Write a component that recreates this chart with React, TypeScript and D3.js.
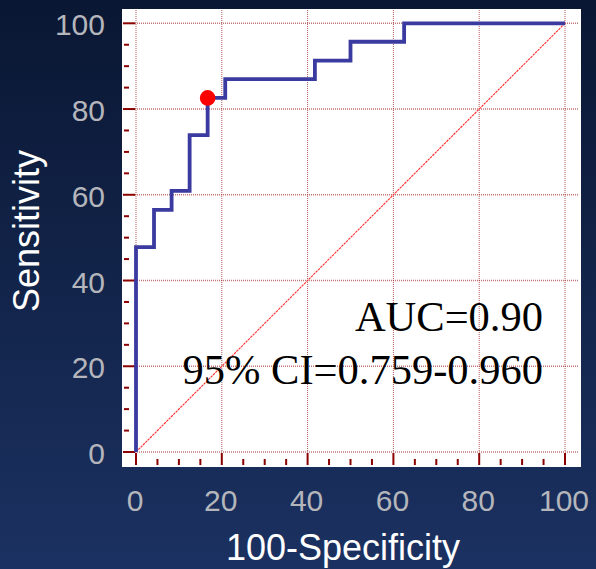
import { useEffect, useRef } from "react";
import * as d3 from "d3";

// ROC curve vertices (100-specificity, sensitivity), drawn as a step line
const fprPoints = [0, 0, 4.2, 8.3, 12.5, 16.7, 20.8, 41.7, 50, 62.5, 100];
const sensPoints = [0, 47.8, 56.5, 60.9, 73.9, 82.6, 87.0, 91.3, 95.7, 100, 100];
const cutoffPoint = [16.7, 82.6]; // optimal criterion marker
const majorTicks = [0, 20, 40, 60, 80, 100];
const minorTicks = [5, 10, 15, 25, 30, 35, 45, 50, 55, 65, 70, 75, 85, 90, 95];
const statLines = ["AUC=0.90", "95% CI=0.759-0.960"];

export default function App() {
  const ref = useRef<SVGSVGElement | null>(null);
  const width = 596;
  const height = 569;

  useEffect(() => {
    document.body.style.margin = "0";
    if (!ref.current) return;
    const svg = d3.select(ref.current);
    svg.selectAll("*").remove();

    const x = d3.scaleLinear().domain([0, 100]).range([136, 565]);
    const y = d3.scaleLinear().domain([0, 100]).range([452, 23.3]);

    // background gradient
    const defs = svg.append("defs");
    const grad = defs.append("linearGradient").attr("id", "bg").attr("x1", 0).attr("y1", 0).attr("x2", 0).attr("y2", 1);
    grad.append("stop").attr("offset", "0%").attr("stop-color", "#0a1733");
    grad.append("stop").attr("offset", "100%").attr("stop-color", "#1b3161");
    svg.append("rect").attr("width", width).attr("height", height).attr("fill", "url(#bg)");

    // white plot panel
    svg.append("rect").attr("x", 122).attr("y", 9).attr("width", 459).attr("height", 458).attr("fill", "#ffffff");

    // gridlines
    svg.append("g").selectAll("line").data(majorTicks).join("line")
      .attr("x1", 133).attr("x2", 579)
      .attr("y1", d => y(d)).attr("y2", d => y(d))
      .attr("stroke", "#b04848").attr("stroke-width", 1.5)
      .attr("stroke-dasharray", "1,1").attr("opacity", 0.75);
    svg.append("g").selectAll("line").data(majorTicks).join("line")
      .attr("x1", d => x(d)).attr("x2", d => x(d))
      .attr("y1", 10).attr("y2", y(0))
      .attr("stroke", "#a03030").attr("stroke-width", 1)
      .attr("stroke-dasharray", "1,1").attr("opacity", 0.8);

    // ticks
    const tickColor = "#8b0000";
    const ticks = svg.append("g").attr("stroke", tickColor).attr("stroke-width", 2);
    ticks.selectAll(".ymaj").data(majorTicks).join("line").attr("class", "ymaj")
      .attr("x1", 123).attr("x2", 135).attr("y1", d => y(d)).attr("y2", d => y(d));
    ticks.selectAll(".ymin").data(minorTicks).join("line").attr("class", "ymin")
      .attr("x1", 124).attr("x2", 129).attr("y1", d => y(d)).attr("y2", d => y(d));
    ticks.selectAll(".xmaj").data(majorTicks).join("line").attr("class", "xmaj")
      .attr("x1", d => x(d)).attr("x2", d => x(d)).attr("y1", 453).attr("y2", 465);
    ticks.selectAll(".xmin").data(minorTicks).join("line").attr("class", "xmin")
      .attr("x1", d => x(d)).attr("x2", d => x(d)).attr("y1", 459).attr("y2", 465);

    // reference diagonal
    svg.append("line")
      .attr("x1", x(0)).attr("y1", y(0)).attr("x2", x(100)).attr("y2", y(100))
      .attr("stroke", "#ff2a2a").attr("stroke-width", 1.1)
      .attr("stroke-dasharray", "2.5,0.8");

    // ROC curve
    const line = d3.line<number>()
      .x((_, i) => x(fprPoints[i]))
      .y(d => y(d))
      .curve(d3.curveStepAfter);
    svg.append("path")
      .attr("d", line(sensPoints))
      .attr("fill", "none")
      .attr("stroke", "#3a3aa0")
      .attr("stroke-width", 3.8)
      .attr("stroke-linejoin", "miter");

    svg.append("circle")
      .attr("cx", x(cutoffPoint[0])).attr("cy", y(cutoffPoint[1]))
      .attr("r", 7.8).attr("fill", "#ff0000");

    // tick labels
    const sans = "'Liberation Sans', Arial, sans-serif";
    svg.append("g").selectAll("text").data(majorTicks).join("text")
      .attr("x", 105).attr("y", d => y(d) + 12)
      .attr("text-anchor", "end")
      .style("font-family", sans).style("font-size", "30px")
      .attr("fill", "#b4b6bc")
      .text(d => d);
    svg.append("g").selectAll("text").data(majorTicks).join("text")
      .attr("x", d => x(d) - 1).attr("y", 511)
      .attr("text-anchor", "middle")
      .style("font-family", sans).style("font-size", "30px")
      .attr("fill", "#b4b6bc")
      .text(d => d);

    // axis titles
    svg.append("text")
      .attr("x", 343).attr("y", 560)
      .attr("text-anchor", "middle")
      .style("font-family", sans).style("font-size", "36px")
      .attr("fill", "#ffffff")
      .text("100-Specificity");
    svg.append("text")
      .attr("transform", "translate(39,231) rotate(-90)")
      .attr("text-anchor", "middle")
      .style("font-family", sans).style("font-size", "36px")
      .attr("fill", "#ffffff")
      .text("Sensitivity");

    // AUC annotation
    svg.append("g").selectAll("text").data(statLines).join("text")
      .attr("x", 543).attr("y", (_, i) => 331 + i * 53)
      .attr("text-anchor", "end")
      .style("font-family", "'Liberation Serif', 'Times New Roman', serif")
      .style("font-size", "42.5px")
      .attr("fill", "#000000")
      .text(d => d);
  }, []);

  return <svg ref={ref} width={width} height={height} style={{ display: "block" }} />;
}
